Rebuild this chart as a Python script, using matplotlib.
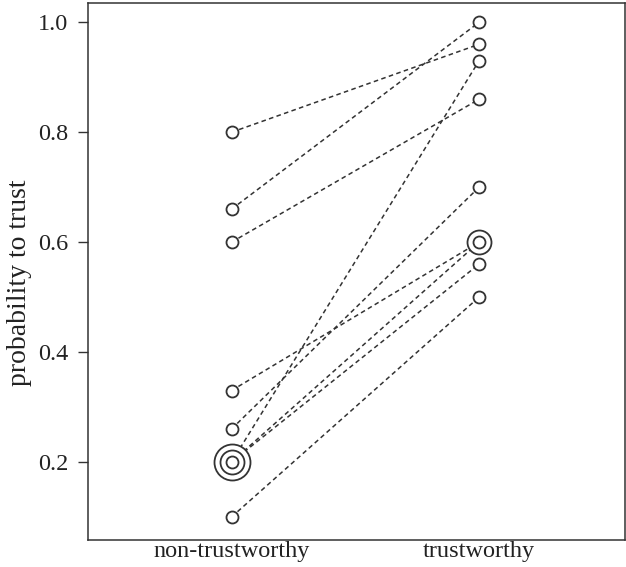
import numpy as np
import matplotlib
matplotlib.use("Agg")
import matplotlib.pyplot as plt
from collections import Counter

plt.rcParams['font.family'] = ['Liberation Serif', 'DejaVu Serif']

# data: each participant's probability to trust a non-trustworthy / trustworthy face
categories = ['non-trustworthy', 'trustworthy']
non_trust = [0.80, 0.66, 0.60, 0.33, 0.26, 0.20, 0.20, 0.20, 0.10]
trust = [0.96, 1.00, 0.86, 0.60, 0.70, 0.93, 0.60, 0.56, 0.50]

dpi = 100
fig = plt.figure(figsize=(6.26, 5.67), dpi=dpi)
ax = fig.add_axes([0.1406, 0.0476, 0.858, 0.947])

c = '#333333'
xs = [1, 2]
for a, b in zip(non_trust, trust):
    ax.plot(xs, [a, b], ls=(0, (3, 2.2)), color=c, lw=1.1, zorder=1)

# overlapping values shown as concentric circles
diam_px = [12, 24, 36]
for x, vals in zip(xs, [non_trust, trust]):
    cnt = Counter(vals)
    for v, n in cnt.items():
        for k in range(n - 1, -1, -1):
            ms = diam_px[k] * 72 / dpi
            ax.plot(x, v, 'o', ms=ms, mfc='white', mec=c, mew=1.3, zorder=3 + (n - k))

ax.set_xlim(0.42, 2.59)
ax.set_ylim(0.058, 1.035)
ax.set_xticks(xs)
ax.set_xticklabels(categories)
ax.set_yticks([0.2, 0.4, 0.6, 0.8, 1.0])
ax.set_yticklabels(['0.2', '0.4', '0.6', '0.8', '1.0'])
ax.tick_params(axis='y', length=7.2, width=1, color=c, labelsize=17.5, pad=7, labelcolor='#222222')
ax.tick_params(axis='x', length=0, labelsize=17.5, pad=1, labelcolor='#222222')
ax.set_ylabel('probability to trust', fontsize=20, color='#222222')
ax.yaxis.set_label_coords(-0.104, 0.48)
for s in ax.spines.values():
    s.set_color(c)
    s.set_linewidth(1.1)

fig.savefig('out.png', dpi=dpi)
